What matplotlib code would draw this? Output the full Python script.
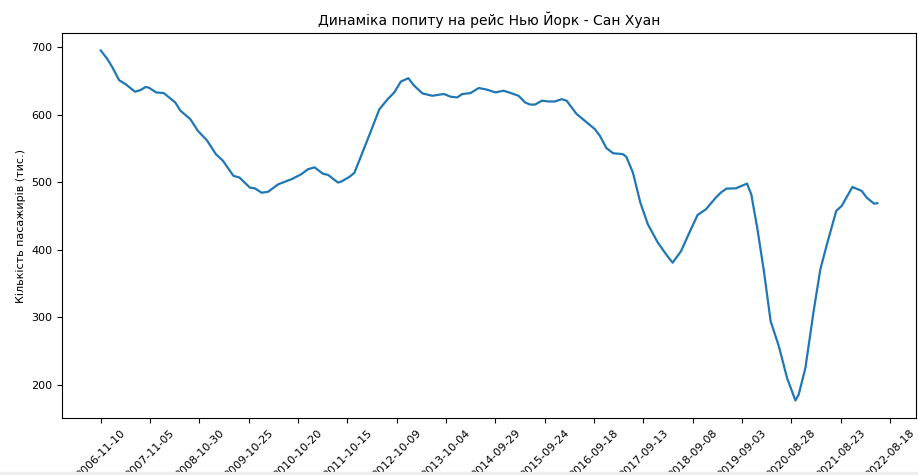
import pandas as pd
import matplotlib
matplotlib.use("Agg")
import matplotlib.pyplot as plt
import matplotlib.dates as mdates
from matplotlib.patches import Rectangle

# passengers NY - San Juan, thousands (rolling 12-month total)
dates = [
    "2006-11-10", "2006-12-29", "2007-02-03", "2007-03-24", "2007-05-11", "2007-07-18",
    "2007-08-27", "2007-10-03", "2007-10-27", "2007-12-19", "2008-02-13", "2008-05-07",
    "2008-06-13", "2008-08-24", "2008-10-19", "2008-12-24", "2009-02-27", "2009-04-19",
    "2009-07-05", "2009-08-18", "2009-11-03", "2009-12-09", "2010-01-27", "2010-03-16",
    "2010-05-28", "2010-09-02", "2010-11-13", "2011-01-01", "2011-02-18", "2011-04-20",
    "2011-05-26", "2011-08-07", "2011-08-31", "2011-10-30", "2011-12-05", "2012-01-23",
    "2012-04-04", "2012-06-04", "2012-08-04", "2012-09-21", "2012-11-08", "2013-01-02",
    "2013-02-13", "2013-04-15", "2013-06-26", "2013-08-13", "2013-09-19", "2013-11-06",
    "2013-12-25", "2014-01-30", "2014-03-31", "2014-05-31", "2014-07-31", "2014-09-29",
    "2014-11-28", "2015-01-28", "2015-03-17", "2015-05-05", "2015-06-10", "2015-07-16",
    "2015-09-03", "2015-10-21", "2015-12-08", "2016-01-26", "2016-03-02", "2016-04-08",
    "2016-05-14", "2016-07-13", "2016-09-24", "2016-10-30", "2016-12-18", "2017-02-04",
    "2017-04-17", "2017-05-12", "2017-06-29", "2017-08-22", "2017-10-16", "2017-12-27",
    "2018-03-10", "2018-04-15", "2018-06-15", "2018-08-15", "2018-10-14", "2018-12-14",
    "2019-02-24", "2019-04-02", "2019-05-12", "2019-07-20", "2019-10-10", "2019-11-10",
    "2019-12-23", "2020-02-10", "2020-03-30", "2020-05-29", "2020-07-28", "2020-09-27",
    "2020-10-21", "2020-12-09", "2021-02-07", "2021-03-28", "2021-05-15", "2021-07-22",
    "2021-08-31", "2021-11-17", "2022-01-24", "2022-03-01", "2022-04-24", "2022-05-18",
]
passengers = [
    695, 682, 670, 651, 645, 634,
    636.5, 641, 640, 633, 632, 618,
    606, 593.5, 576, 562, 541.6, 532,
    509.5, 507, 492, 491, 484.5, 486,
    497, 504.5, 512, 519.4, 522, 512.5,
    511, 499.6, 501, 508, 514, 539,
    576, 608, 623, 633, 649, 654,
    643, 631.5, 628, 629.6, 630.6, 626.6,
    625.6, 630.6, 632, 639.5, 637, 633,
    635.5, 631.5, 628, 618, 615, 615,
    620.7, 619.6, 619.6, 623, 620.7, 610.7,
    601, 591, 578.7, 569, 550.5, 543,
    541.6, 537.6, 514.3, 470, 437.8, 411,
    390, 381, 398, 425.4, 451.6, 460,
    477.3, 484.7, 490.6, 491, 498, 482,
    432.8, 368.6, 294.5, 257.4, 210.4, 177,
    185.8, 225.2, 309.3, 371, 408.2, 457.6,
    465, 493, 487.2, 477.3, 468.4, 469,
]

df = pd.DataFrame({"date": pd.to_datetime(dates), "pax": passengers})

fig = plt.figure(figsize=(9.18, 4.75), dpi=100)
ax = fig.add_axes([0.0675, 0.12, 0.9305, 0.8105])
ax.plot(df["date"], df["pax"], color="#1f77b4", linewidth=1.6)

# ticks every 360 days from the first record
ticks = pd.date_range("2006-11-10", periods=17, freq="360D")
ax.set_xticks(ticks)
ax.xaxis.set_major_formatter(mdates.DateFormatter("%Y-%m-%d"))
plt.setp(ax.get_xticklabels(), rotation=45, fontsize=8)
ax.tick_params(axis="y", labelsize=8)

ax.set_title("Динаміка попиту на рейс Нью Йорк - Сан Хуан", fontsize=10)
ax.set_ylabel("Кількість пасажирів (тис.)", fontsize=8)

fig.add_artist(Rectangle((0, 0), 1, 3.5 / 475, transform=fig.transFigure,
                         color="#eeeeee", zorder=10))

fig.savefig("out.png", dpi=100)
